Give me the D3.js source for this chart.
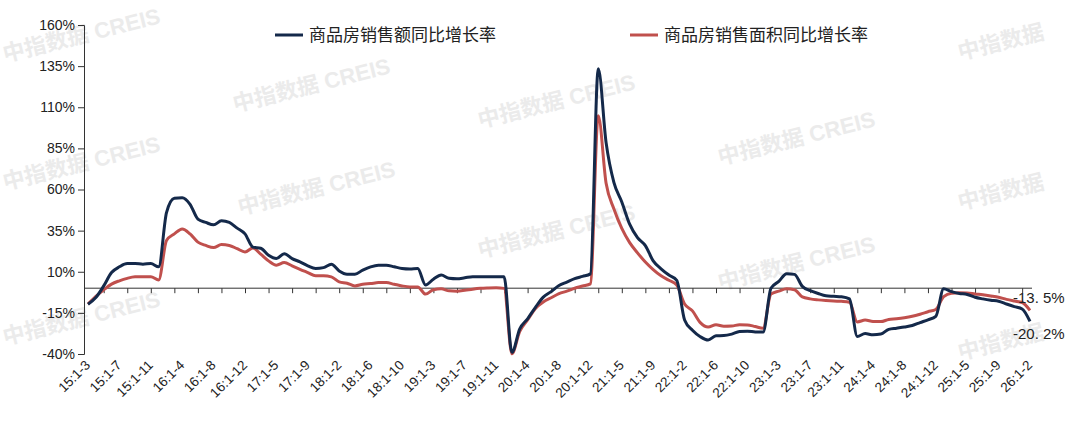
<!DOCTYPE html>
<html>
<head>
<meta charset="utf-8">
<script src="https://cdn.jsdelivr.net/npm/d3@7"></script>
<style>
  body { margin: 0; background: #fff; }
  svg { font-family: "Liberation Sans", Arial, "Noto Sans CJK SC", sans-serif; }
</style>
</head>
<body>
<svg id="chart"></svg>
<script>
// month labels: yy:1-m, Jan-Feb merged, from 15:1-3 to 26:1-2
const months = [];
for (let y = 15; y <= 26; y++) {
  for (let m = 2; m <= 12; m++) {
    if (y === 15 && m < 3) continue;
    if (y === 26 && m > 2) break;
    months.push(y + ":1-" + m);
  }
}

// 商品房销售额同比增长率
const amountYoY = [
  -9.7,-5.7,1.4,9.5,13,15,15,14.6,15,13,
  46,54.7,55,51,42,40,38.5,41,40,36.5,33,
  25,24.3,20,18,21,18,16,13.6,12,12.5,14.6,
  10.5,8.5,8.5,11,13,14,14,13,12,11.7,12,
  2,5.5,8,6,5.7,6.3,7,7,7,7,7,
  -39,-24.7,-18.6,-11.6,-5.4,-2.1,1.6,3.7,5.8,7.2,8.7,
  133.4,88.5,64.2,52.4,38.9,30.7,25.9,16.6,11.8,8.0,4.8,
  -19.3,-25.6,-29.5,-31.5,-28.9,-28.8,-27.9,-26.3,-26.1,-26.6,-26.7,
  -0.1,4.1,8.8,8.4,1.1,-1.5,-3.2,-4.6,-4.9,-5.2,-6.5,
  -29.3,-27.6,-28.3,-27.9,-25.0,-24.3,-23.6,-22.7,-20.9,-19.2,-17.1,
  -0.4,-2.1,-3.2,-3.8,-5.5,-6.5,-7.3,-7.9,-9.6,-11.2,-12.6,
  -20.2
];

// 商品房销售面积同比增长率
const areaYoY = [
  -9.7,-5,-1,2.5,4.5,6,6.9,7,7,5,
  29,33,36,33,28,26,24.7,26.5,26,24,22,
  24.5,20.7,16.6,14,15.6,13.6,11.5,9.5,7.5,7.5,6.9,
  3.8,3,1.4,2.4,2.8,3.4,3.4,2.4,1.4,0.8,0.8,
  -3.6,-0.9,-0.3,-1.6,-1.8,-1.3,-0.6,-0.1,0.1,0.2,-0.1,
  -39.9,-26.3,-19.3,-12.3,-8.4,-5.8,-3.3,-1.8,0,1.3,2.6,
  104.9,63.8,48.1,36.3,27.7,21.5,15.9,11.3,7.5,4.8,1.9,
  -9.6,-13.8,-20.9,-23.6,-22.2,-23.1,-23.0,-22.2,-22.3,-23.3,-24.3,
  -3.6,-1.8,-0.4,-0.9,-5.3,-6.5,-7.1,-7.5,-7.8,-8.0,-8.5,
  -20.5,-19.4,-20.2,-20.3,-19.0,-18.6,-18.0,-17.1,-15.8,-14.3,-12.9,
  -5.1,-3.0,-2.8,-2.9,-3.5,-4.0,-4.7,-5.5,-6.8,-7.8,-8.7,
  -13.5
];

const yTicks = [-40,-15,10,35,60,85,110,135,160];
const seriesNames = ["商品房销售额同比增长率", "商品房销售面积同比增长率"];
const endLabels = ["-20. 2%", "-13. 5%"];
const colors = ["#14294a", "#c0504d"];

const W = 1080, H = 422;
const svg = d3.select("#chart").attr("width", W).attr("height", H);

// watermarks
const marks = [[5,62,1],[235,112,1],[480,128,1],[720,165,1],[960,60,0],[5,190,1],[240,215,1],[480,258,1],[720,290,1],[960,210,0],[5,345,1],[960,360,0]];
marks.forEach(p => {
  svg.append("text")
    .attr("transform", `translate(${p[0]},${p[1]}) rotate(-14)`)
    .attr("fill", "#ebebeb").style("font-size", "22px").style("font-weight", "bold")
    .text(p[2] ? "中指数据  CREIS" : "中指数据");
});

const x = d3.scalePoint().domain(months).range([88, 1030]);
const y = d3.scaleLinear().domain([-40, 160]).range([354, 25]);

// y axis
const yAxis = svg.append("g").attr("transform", "translate(84,0)")
  .call(d3.axisLeft(y).tickValues(yTicks).tickFormat(d => d + "%").tickSizeOuter(0).tickSize(6));
yAxis.selectAll("text").style("font-size", "14px").attr("fill", "#222");
yAxis.selectAll("line, path").attr("stroke", "#333");

// x axis at zero, ticks every 3 months
const xAxis = svg.append("g").attr("transform", `translate(0,${y(0)})`)
  .call(d3.axisBottom(x).tickValues(months.filter((d, i) => i % 3 === 2)).tickFormat("").tickSize(5).tickSizeOuter(0));
xAxis.select("path").attr("d", `M84,0H1032`).attr("stroke", "#333");
xAxis.selectAll("line").attr("stroke", "#333");

// x labels every 4 months, rotated
svg.append("g").selectAll("text")
  .data(months.filter((d, i) => i % 4 === 0))
  .join("text")
  .attr("transform", d => `translate(${x(d) + 3},${366}) rotate(-45)`)
  .attr("text-anchor", "end")
  .style("font-size", "13.5px").attr("fill", "#222")
  .text(d => d);

// lines
const line = d3.line().x((d, i) => x(months[i])).y(d => y(d)).curve(d3.curveMonotoneX);
[areaYoY, amountYoY].forEach((s, k) => {
  svg.append("path").datum(s)
    .attr("fill", "none")
    .attr("stroke", colors[1 - k])
    .attr("stroke-width", 3)
    .attr("stroke-linejoin", "round")
    .attr("d", line);
});

// end labels
svg.append("text").attr("x", 1013).attr("y", 339).style("font-size", "15px").attr("fill", "#222").text(endLabels[0]);
svg.append("text").attr("x", 1013).attr("y", 303).style("font-size", "15px").attr("fill", "#222").text(endLabels[1]);

// legend
const legX = [275, 630];
seriesNames.forEach((n, i) => {
  svg.append("line").attr("x1", legX[i]).attr("x2", legX[i] + 28).attr("y1", 35).attr("y2", 35)
    .attr("stroke", colors[i]).attr("stroke-width", 3);
  svg.append("text").attr("x", legX[i] + 34).attr("y", 41).style("font-size", "17px").attr("fill", "#222").text(n);
});
</script>
</body>
</html>
